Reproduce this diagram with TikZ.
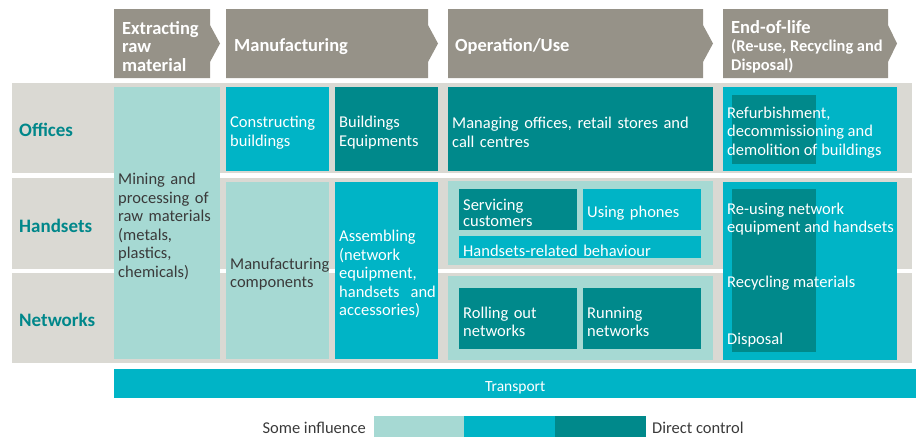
\documentclass[tikz,border=0pt]{standalone}
\usepackage{fontspec}
\setmainfont{Carlito}
\definecolor{hdrgray}{HTML}{969288}
\definecolor{band}{HTML}{DAD9D3}
\definecolor{lightc}{HTML}{A6D9D3}
\definecolor{cyanc}{HTML}{00B4C6}
\definecolor{darkc}{HTML}{00898B}
\definecolor{labelc}{HTML}{00878A}
\definecolor{txtc}{HTML}{3A3A3A}
\newcommand\bodyfont{\fontsize{16.5}{18.5}\selectfont}
\newcommand\hdrfont{\fontsize{18.5}{18.5}\selectfont\bfseries}
\newcommand\subhdrfont{\fontsize{16.4}{18.5}\selectfont\bfseries}
\begin{document}
\begin{tikzpicture}[x=1pt,y=-1pt,
  hdr/.style={fill=hdrgray,draw=none},
  hdrtext/.style={anchor=west,inner sep=0pt,text=white,align=left,font=\hdrfont},
  bandrow/.style={fill=band,draw=none},
  rowlabel/.style={anchor=west,inner sep=0pt,text=labelc,font=\fontsize{19}{19}\selectfont\bfseries},
  cell/.style={anchor=north west,inner xsep=4pt,inner ysep=0pt,align=left,font=\bodyfont,draw=none,
    execute at begin node={\rule{0pt}{18pt}}},
  lightcell/.style={cell,fill=lightc,text=txtc},
  cyancell/.style={cell,fill=cyanc,text=white},
  darkcell/.style={cell,fill=darkc,text=white},
  freetext/.style={anchor=west,inner sep=0pt,align=left,font=\bodyfont,text=white},
  legtext/.style={inner sep=0pt,font=\bodyfont,text=txtc}
]
\useasboundingbox (0,0) rectangle (916,437);
% headers (chevrons)
\path[hdr] (114,9) -- (210,9) -- (210,25) -- (220,43.5) -- (210,62) -- (210,78) -- (114,78) -- cycle;
\path[hdr] (226,9) -- (428,9) -- (428,25) -- (438,43.5) -- (428,62) -- (428,78) -- (226,78) -- cycle;
\path[hdr] (448,9) -- (703,9) -- (703,25) -- (713,43.5) -- (703,62) -- (703,78) -- (448,78) -- cycle;
\path[hdr] (723,9) -- (888,9) -- (888,25) -- (897,43.5) -- (888,62) -- (888,78) -- (723,78) -- cycle;
\node[hdrtext] (hExtract) at (122,46.5) {Extracting\\raw\\material};
\node[hdrtext] (hManuf) at (234,46.5) {Manufacturing};
\node[hdrtext] (hOper) at (455,46.5) {Operation/Use};
\node[hdrtext,font=\subhdrfont] (hEnd) at (731,46.5) {{\hdrfont End-of-life}\\(Re-use, Recycling and\\Disposal)};
% row bands
\path[bandrow] (12,83) rectangle (912,173);
\path[bandrow] (12,178) rectangle (912,269);
\path[bandrow] (12,273) rectangle (912,363);
\node[rowlabel] (lOffices) at (19,130) {Offices};
\node[rowlabel] (lHandsets) at (19,225.5) {Handsets};
\node[rowlabel] (lNetworks) at (19,320) {Networks};
% extracting column
\node[lightcell,text width=98pt,minimum height=272pt] (mining) at (114,87) {Mining and\\processing of\\raw materials\\(metals,\\plastics,\\chemicals)};
% manufacturing column
\node[cyancell,text width=95pt,minimum height=84pt] (constr) at (226,87) {Constructing\\buildings};
\node[darkcell,text width=95pt,minimum height=84pt] (bequip) at (335,87) {Buildings\\Equipments};
\node[lightcell,text width=95pt,minimum height=177pt] (mfgcomp) at (226,182) {Manufacturing\\components};
\node[cyancell,text width=95pt,minimum height=177pt] (assemb) at (335,182) {Assembling\\(network\\equipment,\\handsets~ and\\accessories)};
% operation column
\node[darkcell,text width=257pt,minimum height=84pt] (manage) at (448,87) {Managing offices, retail stores and\\call centres};
\node[lightcell,text width=257pt,minimum height=84pt] (opH) at (448,181) {};
\node[darkcell,text width=110pt,minimum height=41pt,font=\fontsize{16.5}{16}\selectfont] (serv) at (459,189) {Servicing\\customers};
\node[cyancell,text width=110pt,minimum height=41pt] (phones) at (583,189) {Using phones};
\node[cyancell,text width=234pt,minimum height=22pt] (behav) at (459,236) {Handsets-related behaviour};
\node[lightcell,text width=257pt,minimum height=83.5pt] (opN) at (448,276) {};
\node[darkcell,text width=110pt,minimum height=61pt] (roll) at (459,288) {Rolling out\\networks};
\node[darkcell,text width=110pt,minimum height=61pt] (run) at (583,288) {Running\\networks};
% end-of-life column
\node[cyancell,text width=166pt,minimum height=84pt] (eolO) at (723,87) {};
\node[darkcell,text width=76pt,minimum height=69pt] (eolOin) at (732,95) {};
\node[freetext] (refurb) at (727,132.5) {Refurbishment,\\decommissioning and\\demolition of buildings};
\node[cyancell,text width=166pt,minimum height=177.5pt] (eolHN) at (723,182) {};
\node[darkcell,text width=76pt,minimum height=163pt] (eolHNin) at (732,189) {};
\node[freetext] (reuse) at (727,219) {Re-using network\\equipment and handsets};
\node[freetext] (recyc) at (727,283.5) {Recycling materials};
\node[freetext] (dispo) at (727,340) {Disposal};
% transport
\node[cyancell,anchor=north west,text width=794pt,minimum height=29pt,align=center,font=\fontsize{15.5}{18}\selectfont] (transport) at (114,369) {Transport};
% legend
\node[lightcell,text width=82pt,minimum height=21pt] (legL) at (374,416) {};
\node[cyancell,text width=83pt,minimum height=21pt] (legC) at (464,416) {};
\node[darkcell,text width=83pt,minimum height=21pt] (legD) at (555,416) {};
\node[legtext,anchor=east] (legSome) at (366,428) {Some influence};
\node[legtext,anchor=west] (legDirect) at (652,428) {Direct control};
\end{tikzpicture}
\end{document}
